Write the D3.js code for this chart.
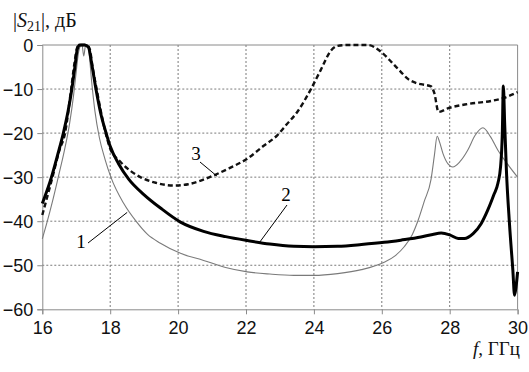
<!DOCTYPE html>
<html><head><meta charset="utf-8">
<script src="https://cdn.jsdelivr.net/npm/d3@7"></script>
<style>body{margin:0;background:#fff}svg{display:block}</style>
</head><body>
<svg id="c" width="529" height="372"></svg>
<script>
// ---- data ----
const xTicks = [16,18,20,22,24,26,28,30];
const yTicks = [0,-10,-20,-30,-40,-50,-60];

const f1 = [16,16.13,16.3,16.47,16.65,16.8,16.92,17.0,17.06,17.12,17.17,17.22,17.27,17.32,17.38,17.45,17.55,17.68,17.85,18.02,18.4,18.76,19.1,19.48,20.07,20.75,21.4,22.04,22.7,23.41,24.0,24.7,25.4,26.07,26.4,26.66,26.9,27.06,27.25,27.45,27.55,27.63,27.7,27.8,27.95,28.09,28.3,28.53,28.75,28.98,29.2,29.42,29.7,30];
const s1 = [-44,-40.5,-35.5,-30,-24,-18,-11.5,-6,-2,-0.3,0,-2.5,-0.3,0,-2,-8,-15,-21,-26,-30,-36,-40,-43,-45,-47.3,-48.9,-50.5,-51.5,-52,-52.3,-52.3,-51.9,-51,-49.3,-47.8,-45.8,-43,-40,-35.5,-30.5,-25,-20.7,-22,-24.6,-27,-27.7,-26.5,-23.9,-20.5,-18.8,-20.8,-23.9,-27,-30];

const f2 = [16,16.27,16.45,16.62,16.76,16.87,16.96,17.03,17.1,17.25,17.36,17.46,17.58,17.72,17.88,18.0,18.25,18.55,19.0,19.48,20.07,20.75,21.4,22.04,22.7,23.41,24.0,24.7,25.4,26.07,26.56,27.15,27.5,27.75,28.0,28.25,28.43,28.69,28.93,29.12,29.3,29.42,29.5,29.55,29.58,29.62,29.67,29.76,29.86,29.91,29.96,30];
const s2 = [-36,-30,-25,-20,-15,-10,-5,-1,0,0,-0.5,-4.5,-10,-15.5,-20,-23,-27,-30.5,-34,-37,-40.2,-42.3,-43.5,-44.4,-45.2,-45.7,-45.8,-45.7,-45.3,-44.8,-44.3,-43.6,-43,-42.7,-43.1,-43.9,-43.9,-42.8,-40.5,-37.5,-34,-31.4,-27.5,-20,-9.3,-18,-28.4,-40.5,-51.1,-56.8,-54.5,-51.5];

const f3 = [16,16.3,16.5,16.67,16.85,16.95,17.03,17.1,17.3,17.4,17.48,17.6,17.75,17.9,18.0,18.3,18.6,18.89,19.3,19.87,20.3,20.96,21.5,22.04,22.5,22.92,23.2,23.51,23.9,24.2,24.5,24.7,25.0,25.58,25.97,26.3,26.56,26.77,27.0,27.15,27.45,27.55,27.67,27.94,28.53,29.22,29.6,30];
const s3 = [-38.6,-30,-24,-20,-10,-4,-0.5,0,0,-1,-5,-10,-16,-21,-23.5,-26.5,-28.6,-30,-31.2,-31.9,-31.6,-29.9,-28,-25.8,-23,-20.5,-18,-15.2,-10.2,-5.7,-1.3,-0.2,0,0,-1.5,-4,-6.1,-7.7,-8.6,-8.9,-9.4,-11,-15.2,-14.4,-13.4,-12.7,-12,-10.7];

const curveLabels = ["1","2","3"];
const yTitle = ["|", "S", "21", "|, дБ"];
const xTitle = ["f", ", ГГц"];

// ---- chart ----
const svg = d3.select("#c");
const x = d3.scaleLinear().domain([16,30]).range([42.3,517.6]);
const y = d3.scaleLinear().domain([-60,0]).range([309.3,45]);
const gray = "#8a8a8a";

// grid
const g = svg.append("g");
g.selectAll("line.v").data(xTicks.slice(1,-1)).join("line")
  .attr("x1",d=>x(d)).attr("x2",d=>x(d)).attr("y1",y(0)).attr("y2",y(-60))
  .attr("stroke","#7a7a7a").attr("stroke-width",1).attr("stroke-dasharray","2,2");
g.selectAll("line.h").data(yTicks.slice(1,-1)).join("line")
  .attr("y1",d=>y(d)).attr("y2",d=>y(d)).attr("x1",x(16)).attr("x2",x(30))
  .attr("stroke","#7a7a7a").attr("stroke-width",1).attr("stroke-dasharray","2,2");
// border top/right
svg.append("line").attr("x1",x(16)).attr("x2",x(30)).attr("y1",y(0)).attr("y2",y(0)).attr("stroke",gray);
svg.append("line").attr("x1",x(30)).attr("x2",x(30)).attr("y1",y(0)).attr("y2",y(-60)).attr("stroke",gray);

// axes
const xAxis = d3.axisBottom(x).tickValues(xTicks).tickSize(5).tickPadding(5).tickFormat(d3.format("d"));
const yAxis = d3.axisLeft(y).tickValues(yTicks).tickSize(5).tickPadding(4).tickFormat(d3.format("d"));
const ax = svg.append("g").attr("transform",`translate(0,${y(-60)})`).call(xAxis);
const ay = svg.append("g").attr("transform",`translate(${x(16)},0)`).call(yAxis);
[ax,ay].forEach(a=>{
  a.select(".domain").attr("stroke",gray);
  a.selectAll(".tick line").attr("stroke",gray);
  a.selectAll("text").attr("fill","#111").style("font-family","'Liberation Sans',Arial,sans-serif").style("font-size","18px");
});
ax.selectAll(".tick text").attr("dy","0.8em");
ay.selectAll(".tick text").attr("dy","0.36em");

// curves
const line = d3.line().x(d=>x(d[0])).y(d=>y(d[1])).curve(d3.curveMonotoneX);
const zip = (a,b)=>a.map((v,i)=>[v,b[i]]);
svg.append("path").datum(zip(f1,s1)).attr("d",line).attr("fill","none").attr("stroke","#7a7a7a").attr("stroke-width",1.1);
svg.append("path").datum(zip(f3,s3)).attr("d",line).attr("fill","none").attr("stroke","#111").attr("stroke-width",2.4).attr("stroke-dasharray","5,3");
svg.append("path").datum(zip(f2,s2)).attr("d",line).attr("fill","none").attr("stroke","#000").attr("stroke-width",3);

// curve labels with leaders
const serif = "'Liberation Serif','Times New Roman',serif";
const lab = [
  {t:curveLabels[0], tx:81, ty:248, lx1:88, ly1:243, lx2:x(18.5), ly2:y(-38)},
  {t:curveLabels[1], tx:286, ty:201, lx1:287, ly1:205, lx2:x(22.4), ly2:y(-44.8)},
  {t:curveLabels[2], tx:196, ty:160, lx1:200, ly1:162, lx2:x(21.15), ly2:y(-29.8)}
];
lab.forEach(l=>{
  svg.append("line").attr("x1",l.lx1).attr("y1",l.ly1).attr("x2",l.lx2).attr("y2",l.ly2).attr("stroke","#000").attr("stroke-width",1);
  svg.append("text").attr("x",l.tx).attr("y",l.ty).attr("text-anchor","middle").style("font-family",serif).style("font-size","19px").text(l.t);
});

// titles
const t1 = svg.append("text").attr("x",13).attr("y",27).style("font-family",serif).style("font-size","20px").attr("fill","#111");
t1.append("tspan").text(yTitle[0]);
t1.append("tspan").style("font-style","italic").text(yTitle[1]);
t1.append("tspan").attr("dy",4).style("font-size","14px").text(yTitle[2]);
t1.append("tspan").attr("dy",-4).text(yTitle[3]);

const t2 = svg.append("text").attr("x",520).attr("y",355).attr("text-anchor","end").style("font-family",serif).style("font-size","19px").attr("fill","#111");
t2.append("tspan").style("font-style","italic").text(xTitle[0]);
t2.append("tspan").text(xTitle[1]);
</script>
</body></html>
